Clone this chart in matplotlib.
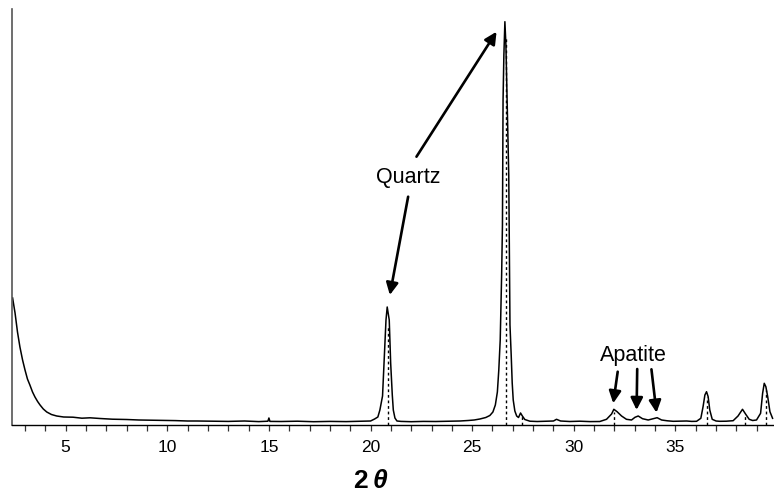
import matplotlib
matplotlib.use("Agg")
import matplotlib.pyplot as plt
from matplotlib.ticker import MultipleLocator

plt.rcParams['font.family'] = ['Liberation Sans', 'DejaVu Sans']

# ---------------------------------------------------------
# --------------- pattern (2theta, counts)
# ---------------------------------------------------------
two_theta = [
    2.39, 2.51, 2.63, 2.75, 2.88, 3.00, 3.12, 3.24, 3.37, 3.49, 3.62, 3.74,
    3.90, 4.07, 4.30, 4.56, 4.90, 5.36, 5.80, 6.20, 6.69, 7.30, 8.00, 8.60,
    9.15, 9.80, 10.40, 11.00, 11.46, 12.20, 13.00, 13.80, 14.50, 14.95, 15.00,
    15.05, 15.60, 16.40, 17.20, 18.00, 18.80, 19.50, 20.00, 20.20, 20.36,
    20.46, 20.59, 20.66, 20.76, 20.82, 20.92, 20.99, 21.07, 21.12, 21.20,
    21.30, 21.50, 22.00, 22.60, 23.20, 23.80, 24.40, 24.80, 25.10, 25.38,
    25.67, 25.87, 26.02, 26.14, 26.24, 26.31, 26.38, 26.45, 26.49, 26.52,
    26.56, 26.61, 26.66, 26.72, 26.80, 26.83, 26.86, 26.92, 26.97, 27.02,
    27.10, 27.19, 27.28, 27.38, 27.47, 27.59, 27.84, 28.20, 28.60, 29.00,
    29.15, 29.35, 29.80, 30.30, 30.80, 31.28, 31.61, 31.86, 31.97, 32.13,
    32.35, 32.59, 32.84, 33.01, 33.17, 33.38, 33.66, 33.90, 34.10, 34.32,
    34.60, 34.89, 35.20, 35.55, 35.80, 36.04, 36.25, 36.36, 36.45, 36.53,
    36.61, 36.69, 36.81, 37.00, 37.18, 37.50, 37.84, 38.08, 38.30, 38.45,
    38.63, 38.80, 38.99, 39.19, 39.29, 39.37, 39.45, 39.54, 39.65, 39.78,
]
counts = [
    1270, 1120, 930, 780, 650, 550, 460, 400, 330, 280, 235, 200,
    160, 130, 105, 90, 80, 78, 68, 72, 65, 58, 55, 50,
    48, 45, 44, 40, 40, 38, 36, 40, 34, 38, 70,
    36, 35, 38, 33, 36, 34, 37, 40, 60, 80,
    150, 290, 600, 1050, 1180, 1050, 620, 300, 150, 70,
    40, 36, 33, 36, 35, 38, 40, 45, 50, 60,
    75, 95, 130, 200, 330, 550, 850, 1500, 2000, 3250,
    3700, 4033, 3800, 3250, 2500, 1800, 1000, 700, 420, 250,
    140, 90, 75, 120, 90, 55, 38, 35, 38, 40,
    57, 40, 35, 38, 34, 35, 57, 110, 157, 133,
    90, 57, 50, 77, 90, 63, 50, 63, 73, 50,
    42, 37, 38, 40, 36, 37, 67, 183, 300, 333,
    283, 150, 57, 40, 37, 38, 43, 90, 157, 110,
    57, 45, 50, 117, 317, 417, 383, 283, 133, 67,
]

# reference stick pattern (dotted lines)
stick_pos = [20.86, 26.64, 27.46, 31.98, 36.54, 38.40, 39.47]
stick_height = [980, 3880, 90, 133, 283, 100, 350]

fig = plt.figure(figsize=(7.74, 4.92), dpi=100)
ax = fig.add_axes([12 / 774, 67 / 492, 762 / 774, 416 / 492])

ax.vlines(stick_pos, 0, stick_height, colors='black', linestyles=(0, (2, 2)), linewidth=1.0)
ax.plot(two_theta, counts, color='black', linewidth=1.1)

ax.set_xlim(2.36, 39.85)
ax.set_ylim(0, 4160)

ax.xaxis.set_major_locator(MultipleLocator(5))
ax.xaxis.set_minor_locator(MultipleLocator(1))
ax.tick_params(axis='x', which='both', direction='out', length=4, width=0.9,
               color='#333333', pad=7, labelsize=12.5)
ax.set_yticks([])

for s in ['top', 'right']:
    ax.spines[s].set_visible(False)
ax.spines['left'].set_color('#555555')
ax.spines['left'].set_linewidth(1.2)
ax.spines['bottom'].set_color('black')
ax.spines['bottom'].set_linewidth(1.0)

arrow = dict(arrowstyle='-|>', color='black', lw=1.9, mutation_scale=18,
             shrinkA=0, shrinkB=0)

# Quartz
ax.text(21.84, 2480, 'Quartz', fontsize=15.5, ha='center', va='center')
ax.annotate('', xy=(26.20, 3933), xytext=(22.26, 2683), arrowprops=arrow)
ax.annotate('', xy=(20.95, 1300), xytext=(21.85, 2283), arrowprops=arrow)

# Apatite
ax.text(32.95, 700, 'Apatite', fontsize=15.5, ha='center', va='center')
ax.annotate('', xy=(31.94, 217), xytext=(32.16, 533), arrowprops=arrow)
ax.annotate('', xy=(33.09, 150), xytext=(33.12, 560), arrowprops=arrow)
ax.annotate('', xy=(34.07, 123), xytext=(33.82, 557), arrowprops=arrow)

# axis label "2 theta"
fig.text(360 / 774, 1 - 481 / 492, '2', fontsize=19, fontweight='bold', ha='center', va='center')
fig.text(380 / 774, 1 - 481 / 492, 'θ', fontsize=19, fontweight='bold', fontstyle='italic',
         ha='center', va='center')

fig.savefig('out.png', dpi=100)
